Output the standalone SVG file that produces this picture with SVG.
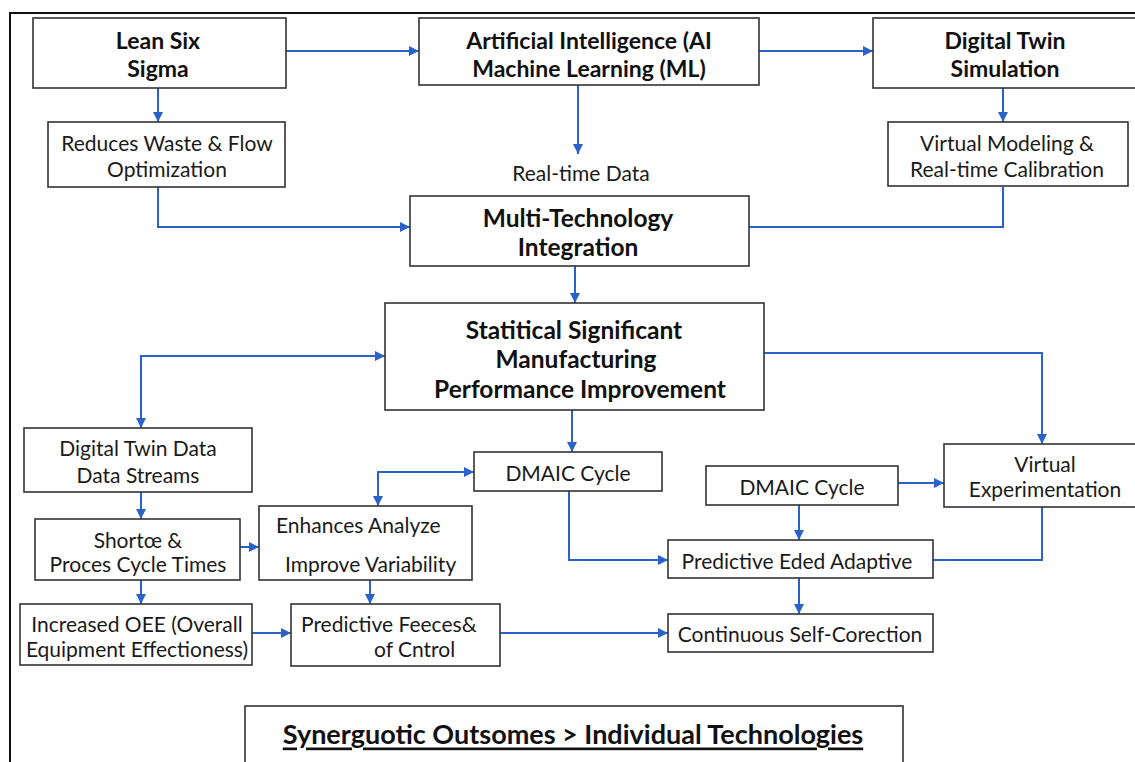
<svg xmlns="http://www.w3.org/2000/svg" width="1135" height="762" viewBox="0 0 1135 762">
  <defs>
    <style>
      .box { fill: #ffffff; stroke: #333333; stroke-width: 1.6; }
      .t { font-family: Lato, "Open Sans", "Liberation Sans", sans-serif; font-size: 21px; fill: #1a1a1a; text-anchor: middle; dominant-baseline: central; }
      .b { font-weight: 700; font-size: 23px; fill: #111111; }
      .big { font-size: 24.5px; }
      .l { text-anchor: start; }
      .conn { fill: none; stroke: #2a62c9; stroke-width: 2; }
      .arr { marker-end: url(#head); }
      .both { marker-start: url(#head); marker-end: url(#head); }
    </style>
    <marker id="head" viewBox="0 0 10 10" refX="10" refY="5" markerWidth="10" markerHeight="10" markerUnits="userSpaceOnUse" orient="auto-start-reverse">
      <path d="M0,0 L10,5 L0,10 z" fill="#2a62c9"/>
    </marker>
  </defs>

  <rect width="1135" height="762" fill="#ffffff"/>
  <!-- outer frame -->
  <path d="M10,762 V13 H1135" fill="none" stroke="#111111" stroke-width="2"/>

  <!-- connectors -->
  <g id="connectors">
    <path class="conn arr" d="M286,51 H419"/>
    <path class="conn arr" d="M759,51 H873"/>
    <path class="conn arr" d="M158,88 V122"/>
    <path class="conn arr" d="M1003,88 V122"/>
    <path class="conn arr" d="M578,85 V154"/>
    <path class="conn arr" d="M158,187 V227 H410"/>
    <path class="conn" d="M1003,187 V227 H749"/>
    <path class="conn arr" d="M575,266 V303"/>
    <path class="conn both" d="M141,428 V356 H385"/>
    <path class="conn arr" d="M764,353 H1042 V444"/>
    <path class="conn arr" d="M572,410 V452"/>
    <path class="conn both" d="M378,506 V472 H474"/>
    <path class="conn arr" d="M141,492 V519"/>
    <path class="conn arr" d="M240,547 H259"/>
    <path class="conn arr" d="M141,580 V604"/>
    <path class="conn arr" d="M370,580 V604"/>
    <path class="conn arr" d="M252,633 H291"/>
    <path class="conn arr" d="M500,633 H668"/>
    <path class="conn arr" d="M569,491 V560 H668"/>
    <path class="conn arr" d="M898,483 H944"/>
    <path class="conn arr" d="M799,505 V540"/>
    <path class="conn" d="M1042,507 V560 H933"/>
    <path class="conn arr" d="M799,578 V614"/>
  </g>

  <!-- nodes -->
  <g id="lean-six-sigma">
    <rect class="box" x="33" y="18" width="253" height="70"/>
    <text class="t b" x="158" y="40">Lean Six</text>
    <text class="t b" x="158" y="68">Sigma</text>
  </g>
  <g id="ai-ml">
    <rect class="box" x="419" y="18" width="340" height="67"/>
    <text class="t b" x="589" y="40">Artificial Intelligence (AI</text>
    <text class="t b" x="589" y="68">Machine Learning (ML)</text>
  </g>
  <g id="digital-twin">
    <rect class="box" x="873" y="18" width="270" height="70"/>
    <text class="t b" x="1005" y="40">Digital Twin</text>
    <text class="t b" x="1005" y="68">Simulation</text>
  </g>
  <g id="reduces-waste">
    <rect class="box" x="48" y="122" width="237" height="65"/>
    <text class="t" x="167" y="142">Reduces Waste &amp; Flow</text>
    <text class="t" x="167" y="168">Optimization</text>
  </g>
  <g id="real-time-data">
    <text class="t" x="581" y="172">Real-time Data</text>
  </g>
  <g id="virtual-modeling">
    <rect class="box" x="888" y="122" width="240" height="64"/>
    <text class="t" x="1007" y="142">Virtual Modeling &amp;</text>
    <text class="t" x="1007" y="168">Real-time Calibration</text>
  </g>
  <g id="multi-tech">
    <rect class="box" x="410" y="196" width="339" height="70"/>
    <text class="t b big" x="578" y="217">Multi-Technology</text>
    <text class="t b big" x="578" y="246">Integration</text>
  </g>
  <g id="performance">
    <rect class="box" x="385" y="303" width="379" height="107"/>
    <text class="t b big" x="574" y="329">Statitical Significant</text>
    <text class="t b big" x="576" y="358">Manufacturing</text>
    <text class="t b big" x="580" y="388">Performance Improvement</text>
  </g>
  <g id="dt-data">
    <rect class="box" x="24" y="428" width="228" height="64"/>
    <text class="t" x="138" y="447">Digital Twin Data</text>
    <text class="t" x="138" y="474">Data Streams</text>
  </g>
  <g id="dmaic-1">
    <rect class="box" x="474" y="452" width="188" height="39"/>
    <text class="t" x="568" y="472">DMAIC Cycle</text>
  </g>
  <g id="dmaic-2">
    <rect class="box" x="706" y="466" width="192" height="39"/>
    <text class="t" x="802" y="486">DMAIC Cycle</text>
  </g>
  <g id="virtual-exp">
    <rect class="box" x="944" y="444" width="200" height="63"/>
    <text class="t" x="1045" y="463">Virtual</text>
    <text class="t" x="1045" y="488">Experimentation</text>
  </g>
  <g id="shortee">
    <rect class="box" x="35" y="519" width="205" height="61"/>
    <text class="t" x="138" y="539">Shortœ &amp;</text>
    <text class="t" x="138" y="563">Proces Cycle Times</text>
  </g>
  <g id="enhances">
    <rect class="box" x="259" y="506" width="213" height="74"/>
    <text class="t l" x="276" y="524">Enhances Analyze</text>
    <text class="t l" x="285" y="563">Improve Variability</text>
  </g>
  <g id="predictive-eded">
    <rect class="box" x="668" y="540" width="265" height="38"/>
    <text class="t" x="797" y="560">Predictive Eded Adaptive</text>
  </g>
  <g id="oee">
    <rect class="box" x="20" y="604" width="232" height="61"/>
    <text class="t" x="137" y="623">Increased OEE (Overall</text>
    <text class="t" x="137" y="648">Equipment Effectioness)</text>
  </g>
  <g id="predictive-feeces">
    <rect class="box" x="291" y="604" width="209" height="62"/>
    <text class="t l" x="301" y="623">Predictive Feeces&amp;</text>
    <text class="t l" x="374" y="648">of Cntrol</text>
  </g>
  <g id="self-correction">
    <rect class="box" x="668" y="614" width="265" height="38"/>
    <text class="t" x="800" y="633">Continuous Self-Corection</text>
  </g>
  <g id="synergy">
    <rect class="box" x="245" y="706" width="658" height="70"/>
    <text class="t b" x="573" y="733" style="font-size:27px; text-decoration: underline;">Synerguotic Outsomes &gt; Individual Technologies</text>
  </g>
</svg>
